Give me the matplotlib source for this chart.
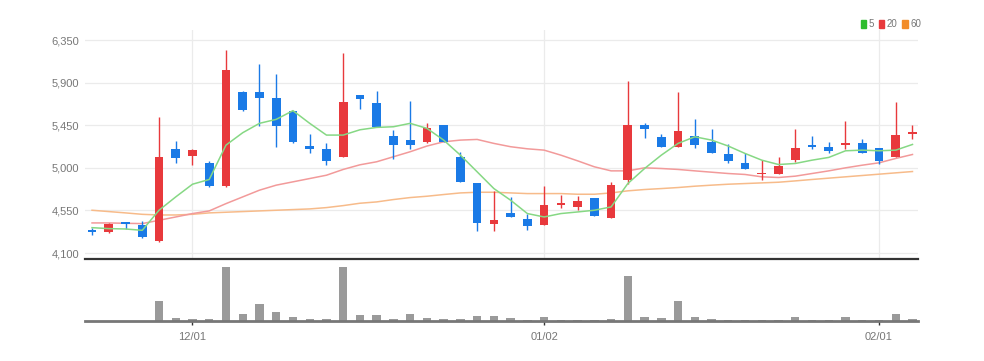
import matplotlib
matplotlib.use("Agg")
import matplotlib.pyplot as plt
from matplotlib.patches import Patch
import numpy as np

# ---- data ----
opens = [4344, 4322, 4428, 4393, 4227, 5201, 5124, 5046, 4806, 5798,
         5798, 5738, 5604, 5233, 5201, 5110, 5766, 5689, 5339, 5293,
         5268, 5452, 5117, 4841, 4404, 4527, 4464, 4393, 4608, 4587,
         4686, 4471, 4870, 5452, 5328, 5215, 5336, 5272, 5145, 5046,
         4930, 4940, 5081, 5237, 5215, 5237, 5258, 5208, 5110, 5353]
closes = [4319, 4404, 4404, 4269, 5117, 5103, 5187, 4806, 6034, 5611,
          5741, 5441, 5272, 5194, 5074, 5699, 5731, 5427, 5237, 5237,
          5417, 5275, 4852, 4418, 4446, 4481, 4386, 4612, 4626, 4647,
          4492, 4820, 5452, 5410, 5215, 5388, 5240, 5159, 5067, 4983,
          4947, 5018, 5208, 5215, 5177, 5258, 5159, 5074, 5346, 5378]
highs = [4368, 4418, 4428, 4439, 5540, 5283, 5194, 5067, 6246, 5812,
         6094, 5992, 5604, 5357, 5258, 6218, 5766, 5816, 5399, 5710,
         5470, 5452, 5170, 4841, 4757, 4693, 4509, 4810, 4711, 4700,
         4686, 4855, 5921, 5477, 5353, 5805, 5516, 5406, 5247, 5152,
         5081, 5117, 5406, 5336, 5275, 5498, 5300, 5208, 5692, 5452]
lows = [4291, 4315, 4358, 4262, 4220, 5046, 5035, 4799, 4799, 5604,
        5441, 5223, 5258, 5152, 5028, 5110, 5618, 5427, 5095, 5201,
        5258, 5275, 4852, 4329, 4333, 4481, 4347, 4393, 4577, 4552,
        4492, 4471, 4834, 5311, 5215, 5215, 5205, 5159, 5046, 4983,
        4870, 4940, 5064, 5201, 5159, 5201, 5159, 5039, 5110, 5300]
ma5 = [4368, 4358, 4354, 4340, 4552, 4693, 4827, 4877, 5240, 5371,
       5470, 5512, 5604, 5470, 5346, 5346, 5402, 5427, 5434, 5470,
       5417, 5293, 5134, 4958, 4781, 4658, 4517, 4481, 4517, 4534,
       4552, 4587, 4834, 4993, 5134, 5258, 5328, 5293, 5230, 5152,
       5081, 5035, 5046, 5081, 5110, 5180, 5187, 5180, 5187, 5247]
ma20 = [4418, 4418, 4414, 4411, 4446, 4481, 4517, 4545, 4622, 4693,
        4764, 4817, 4852, 4887, 4922, 4983, 5032, 5064, 5117, 5170,
        5230, 5275, 5293, 5300, 5258, 5223, 5201, 5187, 5134, 5074,
        5011, 4968, 4968, 5000, 4993, 4983, 4968, 4954, 4940, 4930,
        4905, 4898, 4912, 4940, 4968, 5000, 5028, 5053, 5099, 5141]
ma60 = [4552, 4538, 4524, 4509, 4502, 4502, 4509, 4524, 4531, 4538,
        4545, 4552, 4559, 4566, 4580, 4601, 4626, 4640, 4665, 4686,
        4700, 4718, 4735, 4742, 4742, 4735, 4728, 4728, 4728, 4721,
        4721, 4735, 4757, 4771, 4781, 4792, 4806, 4817, 4827, 4834,
        4841, 4848, 4862, 4877, 4891, 4905, 4919, 4933, 4947, 4961]
volumes = [0.5, 0.5, 0.5, 0.5, 20, 2.7, 2.3, 2, 53.7, 7,
           17, 8.7, 4, 2, 2, 54, 5.7, 5.7, 2, 7.3,
           2.7, 2, 2.3, 5.3, 5.3, 2.7, 1, 4, 1, 1,
           1, 2, 45.3, 4.3, 2.7, 20.3, 4, 2, 1, 1,
           1, 1, 3.7, 1, 1, 3.7, 1, 1, 7.3, 2]
tick_idx = [6, 27, 47]
tick_labels = ["12/01", "01/02", "02/01"]
y_ticks = [4100, 4550, 5000, 5450, 5900, 6350]
legend_labels = ["5", "20", "60"]

# ---- style ----
RED = "#e8393c"
BLUE = "#1a7ae6"
C5 = "#86d884"
C20 = "#f29a9a"
C60 = "#f7bb8a"
GRID = "#ebebeb"
TXT = "#777777"
W, H = 984, 361
FONT = ["Liberation Sans Narrow", "Liberation Sans", "DejaVu Sans"]
plt.rcParams["font.family"] = FONT

fig = plt.figure(figsize=(W / 100, H / 100), dpi=100)
L, R = 85, 918
ax = fig.add_axes([L / W, 1 - 259 / H, (R - L) / W, (259 - 30) / H])
axv = fig.add_axes([L / W, 1 - 321 / H, (R - L) / W, (321 - 262) / H], sharex=ax)

x = np.arange(len(opens))
o = np.array(opens, float)
c = np.array(closes, float)
up = c >= o
colors = np.where(up, RED, BLUE)
bottoms = np.minimum(o, c)
heights = np.maximum(np.abs(c - o), 8)

ax.vlines(x, lows, highs, colors=colors, linewidth=1, zorder=3)
ax.bar(x, heights, bottom=bottoms, width=0.52, color=colors, zorder=4,
       linewidth=0)
ax.plot(x, ma60, color=C60, lw=1.1, zorder=2)
ax.plot(x, ma20, color=C20, lw=1.1, zorder=2)
ax.plot(x, ma5, color=C5, lw=1.1, zorder=5)

ax.set_xlim(-0.42, 49.33)
ax.set_ylim(4037, 6456)
ax.set_yticks(y_ticks)
ax.set_yticklabels([f"{v:,}" for v in y_ticks], color=TXT, fontsize=8)
ax.set_xticks(tick_idx)
ax.tick_params(axis="both", length=0, pad=4)
ax.tick_params(axis="x", labelbottom=False)
ax.grid(True, color=GRID, lw=0.9, zorder=0)
ax.set_axisbelow(True)
for s in ["top", "right", "left"]:
    ax.spines[s].set_visible(False)
ax.spines["bottom"].set_color("#333333")
ax.spines["bottom"].set_linewidth(1.6)

# volume
axv.bar(x, volumes, width=0.5, color="#9a9a9a", linewidth=0, zorder=2)
axv.set_ylim(0, 59)
axv.set_yticks([])
axv.set_xticks(tick_idx)
axv.set_xticklabels(tick_labels, color=TXT, fontsize=8)
axv.tick_params(axis="x", length=3, width=1, color="#333333", pad=5)
for s in ["top", "right", "left"]:
    axv.spines[s].set_visible(False)
axv.spines["bottom"].set_color("#777777")
axv.spines["bottom"].set_linewidth(2)
axv.patch.set_alpha(0)

handles = [Patch(color=col) for col in ["#2dbd2d", RED, "#f28c28"]]
fig.legend(handles, legend_labels, loc="center right",
           bbox_to_anchor=(921 / W, 1 - 24 / H), ncol=3, frameon=False,
           fontsize=7, handlelength=0.55, handleheight=0.9,
           handletextpad=0.25, columnspacing=0.5, labelcolor=TXT,
           borderpad=0, borderaxespad=0)

fig.savefig("out.png", dpi=100, facecolor="white")
